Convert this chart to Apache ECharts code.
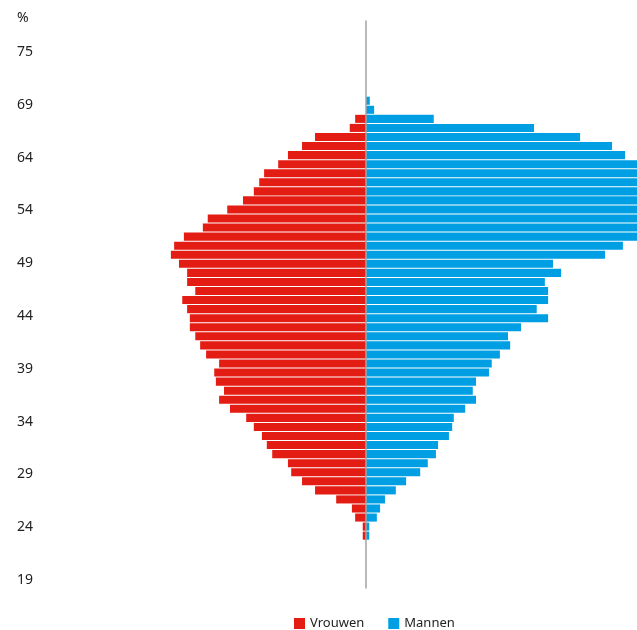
<!DOCTYPE html>
<html><head><meta charset="utf-8">
<script src="https://cdn.jsdelivr.net/npm/echarts@6/dist/echarts.min.js"></script>
<style>html,body{margin:0;padding:0;background:#fff}#c{width:637px;height:630px}</style>
</head><body><div id="c"></div>
<script>
// Hidden bar categories, bottom (youngest) to top
const ages = ['23','24','25','26','27','28','29','30','31','32','33','34','35','36','37','38','39','40','41','42','43','44','45','46','47','48','49','50','51','52','53','54','55','56','57','58','59','60','61','62','63','64','65','66','67','68','69','70','71'];
// Visible age labels on the left, bottom to top
const tickLabels = ['19','24','29','34','39','44','49','54','64','69','75'];
// Percentages, bottom to top
const vrouwen = [0.06,0.06,0.20,0.26,0.55,0.94,1.18,1.38,1.44,1.73,1.83,1.92,2.07,2.21,2.51,2.71,2.62,2.77,2.80,2.71,2.95,3.06,3.15,3.25,3.25,3.30,3.39,3.15,3.30,3.30,3.45,3.60,3.54,3.36,3.01,2.92,2.56,2.27,2.07,1.97,1.88,1.62,1.44,1.18,0.94,0.30,0.20,0,0];
const mannen = [0.06,0.06,0.20,0.26,0.35,0.55,0.74,1.00,1.14,1.29,1.33,1.53,1.59,1.62,1.83,2.03,1.97,2.03,2.27,2.32,2.47,2.66,2.62,2.86,3.36,3.15,3.36,3.36,3.30,3.60,3.45,4.41,4.74,5.5,5.9,6.2,6.4,6.3,6.1,5.9,5.6,5.3,4.78,4.54,3.95,3.10,1.25,0.15,0.07];

const RED = '#e31c14', BLUE = '#009fe3', TXT = '#222';
const FONT = 'Noto Sans';
const hiddenAxis = {axisLine:{show:false},axisTick:{show:false},axisLabel:{show:false},splitLine:{show:false}};

const chart = echarts.init(document.getElementById('c'), null, {renderer:'canvas'});
chart.setOption({
  animation:false,
  backgroundColor:'#fff',
  grid:[
    {left:95, width:542, top:96.2, height:444},
    {left:17, width:10, top:52, height:528},
    {left:95, width:542, top:21, height:567}
  ],
  xAxis:[
    Object.assign({type:'value', gridIndex:0, min:-5, max:5}, hiddenAxis),
    Object.assign({type:'value', gridIndex:1, min:0, max:1}, hiddenAxis),
    Object.assign({type:'value', gridIndex:2, min:-5, max:5}, hiddenAxis)
  ],
  yAxis:[
    Object.assign({type:'category', gridIndex:0, data:ages}, hiddenAxis),
    {type:'category', gridIndex:1, data:tickLabels, boundaryGap:false,
     axisLine:{show:false}, axisTick:{show:false}, splitLine:{show:false},
     axisLabel:{inside:true, margin:0, interval:0, fontSize:14, color:TXT, fontFamily:FONT},
     name:'%', nameLocation:'end', nameGap:34,
     nameTextStyle:{align:'left', verticalAlign:'middle', fontSize:14, color:TXT, fontFamily:FONT}},
    {type:'value', gridIndex:2, min:0, max:1, z:5,
     axisLine:{show:true, onZero:true, lineStyle:{color:'#a3a3a3', width:1.5}},
     axisTick:{show:false}, axisLabel:{show:false}, splitLine:{show:false}}
  ],
  legend:{
    data:['Vrouwen','Mannen'], left:294, top:617, padding:0,
    itemWidth:11, itemHeight:11, itemGap:24, icon:'rect',
    textStyle:{fontSize:13, color:TXT, fontFamily:FONT}
  },
  series:[
    {name:'Vrouwen', type:'bar', stack:'p', xAxisIndex:0, yAxisIndex:0,
     data:vrouwen.map(v=>-v), barCategoryGap:'11%', itemStyle:{color:RED}},
    {name:'Mannen', type:'bar', stack:'p', xAxisIndex:0, yAxisIndex:0,
     data:mannen, barCategoryGap:'11%', itemStyle:{color:BLUE}}
  ]
});
</script></body></html>
